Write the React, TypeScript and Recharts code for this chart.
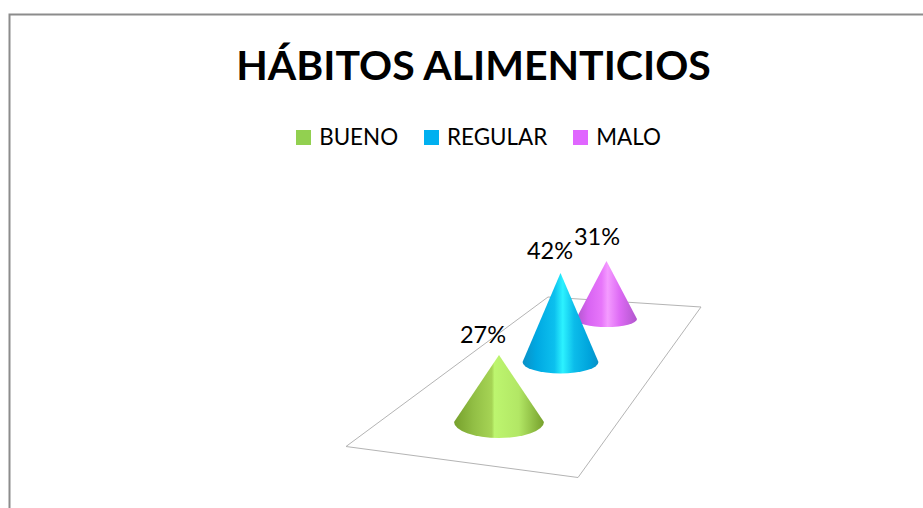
import React from "react";
import { BarChart, Bar, XAxis, YAxis, Legend } from "recharts";

const title = "HÁBITOS ALIMENTICIOS";
const categories = ["BUENO", "REGULAR", "MALO"];
const values = [27, 42, 31];
const legendColors = ["#92d050", "#00b0f0", "#e066ff"];
const rows = categories.map((name, i) => ({ name, value: values[i] })).reverse();

const FONT = "Lato, Carlito, sans-serif";

// Stand-in for the original's 3-D view: offset and shrink of each depth slot.
const depth: Record<string, any> = {
  BUENO: { dx: 18.5, dy: 0, h: 1, r: 1.11, ry: 16, lx: -16, ly: -12 },
  REGULAR: { dx: -10, dy: -60, h: 0.854, r: 0.937, ry: 11.5, lx: -10.5, ly: -14 },
  MALO: { dx: -54, dy: -103, h: 0.754, r: 0.753, ry: 8, lx: -9.5, ly: -16 },
};

const gradients: Record<string, [number, string][]> = {
  BUENO: [[0, "#76a02c"], [0.22, "#92bf45"], [0.42, "#a6d455"], [0.45, "#bdf56f"], [0.72, "#b2e765"], [1, "#76a02c"]],
  REGULAR: [[0, "#0a90c6"], [0.18, "#00a8e2"], [0.42, "#0cc0ee"], [0.53, "#2cf2ff"], [0.68, "#0cbcea"], [0.88, "#00a4dc"], [1, "#0a90c6"]],
  MALO: [[0, "#b056cc"], [0.2, "#d864f2"], [0.42, "#e776fa"], [0.52, "#f49bff"], [0.72, "#dd6af4"], [1, "#b056cc"]],
};

function Cone(props: any) {
  const { x, y, width, height, payload } = props;
  const d = depth[payload.name];
  const cx = x + width / 2 + d.dx;
  const baseY = y + height + d.dy;
  const rx = (width / 2) * d.r;
  const apexY = baseY - height * d.h;
  return (
    <g>
      <path
        d={`M${cx - rx},${baseY} L${cx},${apexY} L${cx + rx},${baseY} A${rx},${d.ry} 0 0 1 ${cx - rx},${baseY} Z`}
        fill={`url(#cone-${payload.name})`}
      />
      <text x={cx + d.lx} y={apexY + d.ly} textAnchor="middle" fontFamily={FONT} fontSize={23.5} fill="#000">
        {payload.value}%
      </text>
    </g>
  );
}

function ChartLegend() {
  return (
    <div style={{ display: "flex", justifyContent: "center", fontFamily: FONT, fontSize: 22.4, color: "#000", lineHeight: "24px" }}>
      {categories.map((c, i) => (
        <div key={c} style={{ display: "flex", alignItems: "center", marginRight: i < 2 ? 26 : 0 }}>
          <span style={{ width: 15, height: 15, background: legendColors[i], marginRight: 8, display: "inline-block" }} />
          <span>{c}</span>
        </div>
      ))}
    </div>
  );
}

export default function App() {
  return (
    <div style={{ position: "absolute", left: 0, top: 0, width: 923, height: 508, overflow: "hidden", background: "#fff" }}>
      <BarChart
        width={923}
        height={508}
        data={rows}
        margin={{ top: 298, bottom: 86, left: 435, right: 218 }}
        barCategoryGap={0}
      >
        <defs>
          {categories.map((c) => (
            <linearGradient key={c} id={`cone-${c}`} x1="0" y1="0" x2="1" y2="0">
              {gradients[c].map(([o, col]) => (
                <stop key={o} offset={o} stopColor={col} />
              ))}
            </linearGradient>
          ))}
        </defs>
        <polyline points="9.5,508 9.5,14.5 923,14.5" fill="none" stroke="#8c8c8c" strokeWidth={2} />
        <polygon points="346,446.5 578,477.5 701,307 548,297" fill="none" stroke="#b4b4b4" strokeWidth={1} />
        <text x={473.5} y={80} textAnchor="middle" fontFamily={FONT} fontWeight={700} fontSize={41} fill="#000">
          {title}
        </text>
        <XAxis dataKey="name" type="category" reversed hide />
        <YAxis type="number" domain={[0, 50]} hide />
        <Legend
          layout="horizontal"
          verticalAlign="middle"
          align="center"
          content={<ChartLegend />}
          wrapperStyle={{ top: 125, left: 17, width: 923 }}
        />
        <Bar dataKey="value" barSize={90} isAnimationActive={false} shape={<Cone />} />
      </BarChart>
    </div>
  );
}
